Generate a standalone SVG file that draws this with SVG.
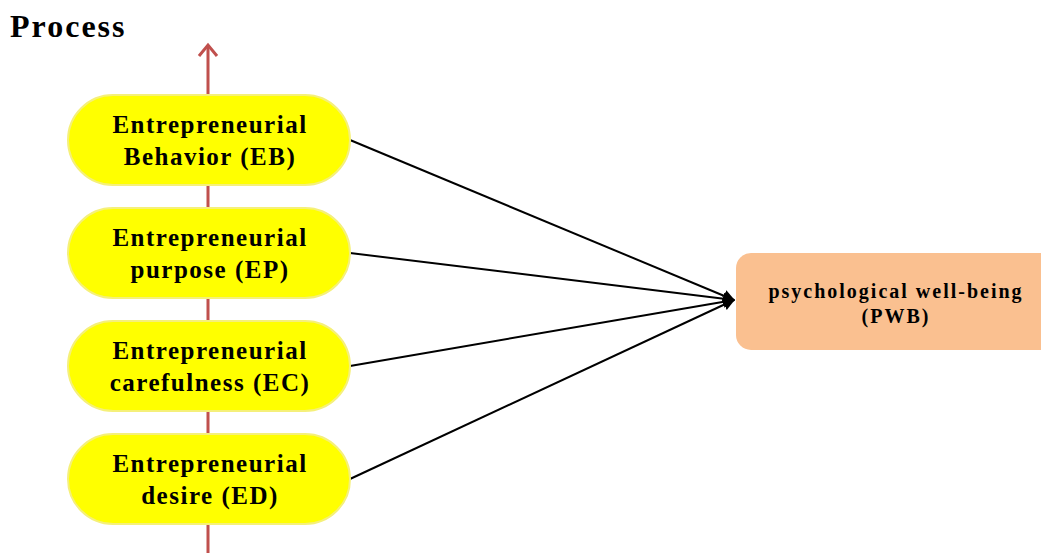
<svg xmlns="http://www.w3.org/2000/svg" width="1041" height="553" viewBox="0 0 1041 553">
<defs>
<style>
.pill{fill:#FFFF00;stroke:#F5F07A;stroke-width:2}
.t{font-family:"Liberation Serif",serif;font-weight:bold;font-size:25px;letter-spacing:1.5px;fill:#000;text-anchor:middle}
.t2{font-family:"Liberation Serif",serif;font-weight:bold;font-size:20px;letter-spacing:2px;fill:#000;text-anchor:middle}
.conn{stroke:#000;stroke-width:2;fill:none;marker-end:url(#ah)}
</style>
<marker id="ah" viewBox="0 0 10 10" refX="9" refY="5" markerWidth="6" markerHeight="6" orient="auto" markerUnits="strokeWidth">
<path d="M0,0 L10,5 L0,10 z" fill="#000"/>
</marker>
</defs>
<rect width="1041" height="553" fill="#fff"/>
<g id="title"><text x="10" y="37" font-family="Liberation Serif,serif" font-weight="bold" font-size="32" letter-spacing="2">Process</text></g>
<g id="process-axis"><line x1="208" y1="553" x2="208" y2="45" stroke="#C0504D" stroke-width="3"/><path d="M199,56 L208,45 L217,56" fill="none" stroke="#C0504D" stroke-width="3"/></g>
<g id="connectors">
<line class="conn" x1="350" y1="140" x2="734" y2="300"/>
<line class="conn" x1="350" y1="253" x2="734" y2="300"/>
<line class="conn" x1="350" y1="366" x2="734" y2="300"/>
<line class="conn" x1="350" y1="479" x2="734" y2="300"/>
</g>
<g id="EB"><rect class="pill" x="68" y="95" width="282" height="90" rx="45"/><text class="t" x="210" y="133">Entrepreneurial</text><text class="t" x="210" y="165">Behavior (EB)</text></g>
<g id="EP"><rect class="pill" x="68" y="208" width="282" height="90" rx="45"/><text class="t" x="210" y="246">Entrepreneurial</text><text class="t" x="210" y="278">purpose (EP)</text></g>
<g id="EC"><rect class="pill" x="68" y="321" width="282" height="90" rx="45"/><text class="t" x="210" y="359">Entrepreneurial</text><text class="t" x="210" y="391">carefulness (EC)</text></g>
<g id="ED"><rect class="pill" x="68" y="434" width="282" height="90" rx="45"/><text class="t" x="210" y="472">Entrepreneurial</text><text class="t" x="210" y="504">desire (ED)</text></g>
<g id="PWB"><rect x="736" y="253" width="320" height="97" rx="15" fill="#FAC090"/><text class="t2" x="896" y="298">psychological well-being</text><text class="t2" x="896" y="323">(PWB)</text></g>
</svg>
